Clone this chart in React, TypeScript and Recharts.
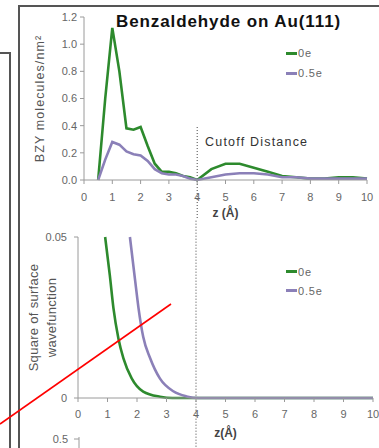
import React from 'react';
import { LineChart, Line, XAxis, YAxis, ReferenceLine, Legend } from 'recharts';

// top panel: BZY density vs z
const zTop = [0.5, 0.75, 1, 1.25, 1.5, 1.75, 2, 2.25, 2.5, 2.75, 3, 3.25, 3.5, 3.75, 4, 4.5, 5, 5.5, 6, 6.5, 7, 7.5, 8, 8.5, 9, 9.5, 10];
const bzy0e = [0, 0.6, 1.12, 0.8, 0.38, 0.37, 0.39, 0.25, 0.12, 0.06, 0.06, 0.05, 0.03, 0.02, 0, 0.08, 0.12, 0.12, 0.09, 0.06, 0.03, 0.02, 0.01, 0.01, 0.02, 0.02, 0.01];
const bzy05e = [0, 0.15, 0.28, 0.26, 0.21, 0.19, 0.18, 0.14, 0.08, 0.05, 0.04, 0.04, 0.03, 0.01, 0, 0.02, 0.04, 0.05, 0.05, 0.04, 0.02, 0.02, 0.01, 0.01, 0.01, 0.01, 0.01];

const zTicks = [0, 1, 2, 3, 4, 5, 6, 7, 8, 9, 10];
const bzyTicks = [0, 0.2, 0.4, 0.6, 0.8, 1.0, 1.2];

// bottom panel: square of surface wavefunction
const wave0eZ = [0.92, 1.08, 1.2, 1.37, 1.54, 1.82, 2.21, 2.78, 3.2, 4, 6, 8, 10];
const wave0e = [0.05, 0.038, 0.028, 0.0185, 0.0123, 0.0061, 0.002, 0.0004, 0, 0, 0, 0, 0];
const wave05eZ = [1.76, 1.93, 2.05, 2.21, 2.44, 2.78, 3.23, 3.68, 4.1, 6, 8, 10];
const wave05e = [0.05, 0.037, 0.028, 0.019, 0.0125, 0.006, 0.0021, 0.0005, 0, 0, 0, 0];
const waveTicks = [0, 0.05];

const seriesNames = ['0e', '0.5e'];
const cutoff = 4;

const GREEN = '#2d8a2d';
const PURPLE = '#8b80b8';
const FONT = '"Liberation Sans", Arial, sans-serif';

const topData = zTop.map((z, i) => ({ z, e0: bzy0e[i], e05: bzy05e[i] }));
const wave0eData = wave0eZ.map((z, i) => ({ z, v: wave0e[i] }));
const wave05eData = wave05eZ.map((z, i) => ({ z, v: wave05e[i] }));

const LegendBox = (props: any) => {
  // keep the series order (0e first), the legend sorts by name otherwise
  const items = [...(props.payload || [])].sort(
    (a: any, b: any) => seriesNames.indexOf(a.value) - seriesNames.indexOf(b.value)
  );
  return (
    <div style={{ fontFamily: FONT }}>
      {items.map((e: any) => (
        <div key={e.value} style={{ display: 'flex', alignItems: 'center', height: props.rowH }}>
          <span style={{ display: 'inline-block', width: 11, height: 3, background: e.color }} />
          <span style={{ fontSize: 11, color: '#666', marginLeft: 1, letterSpacing: 0.8 }}>{e.value}</span>
        </div>
      ))}
    </div>
  );
};

const XTitle = (props: any) => {
  const vb = props.viewBox || {};
  return (
    <text x={vb.x + vb.width / 2} y={vb.y + props.dy} textAnchor="middle" dominantBaseline="central"
      fontSize={12} fontWeight="bold" fill="#444" fontFamily={FONT}>
      {props.text}
    </text>
  );
};

const YTitle = (props: any) => {
  const vb = props.viewBox || {};
  const cy = vb.y + vb.height / 2;
  const lines: string[] = props.lines;
  return (
    <g>
      {lines.map((t, i) => {
        const x = vb.x + props.dx + i * props.gap;
        return (
          <text key={t} x={x} y={cy} textAnchor="middle" dominantBaseline="central"
            transform={`rotate(-90, ${x}, ${cy})`} fontSize={props.size} letterSpacing={props.ls}
            fill="#555" fontFamily={FONT}>
            {t}
          </text>
        );
      })}
    </g>
  );
};

const tickStyle = { fill: '#666', fontSize: 11, fontFamily: FONT };

export default function App() {
  return (
    <div style={{ position: 'absolute', left: 0, top: 0, width: 379, height: 448, overflow: 'hidden', background: '#fff', fontFamily: FONT }}>
      <div style={{ position: 'absolute', left: 0, top: 0 }}>
        <LineChart width={379} height={220} data={topData} margin={{ top: 17, right: 12, bottom: 10, left: 44 }}>
          <XAxis dataKey="z" type="number" domain={[0, 10]} ticks={zTicks} stroke="#9a9a9a" tick={tickStyle}
            tickSize={4} tickMargin={9} height={30} label={<XTitle text="z (Å)" dy={33} />} />
          <YAxis domain={[0, 1.2]} ticks={bzyTicks} tickFormatter={(v: number) => v.toFixed(1)} width={40}
            stroke="#9a9a9a" tick={tickStyle} tickSize={4} tickMargin={3}
            label={<YTitle lines={['BZY molecules/nm²']} dx={-4} gap={0} size={12.5} ls={1.1} />} />
          <ReferenceLine segment={[{ x: cutoff, y: 0.39 }, { x: cutoff, y: -0.3 }]} stroke="#444"
            strokeDasharray="1 2" ifOverflow="visible" />
          <Line dataKey="e0" name="0e" type="linear" stroke={GREEN} strokeWidth={2.6} dot={false} isAnimationActive={false} />
          <Line dataKey="e05" name="0.5e" type="linear" stroke={PURPLE} strokeWidth={2.6} dot={false} isAnimationActive={false} />
          <Legend layout="vertical" align="center" verticalAlign="middle" content={<LegendBox rowH={20} />}
            wrapperStyle={{ left: 286, top: 43, width: 60 }} />
        </LineChart>
      </div>

      <div style={{ position: 'absolute', left: 0, top: 220 }}>
        <LineChart width={379} height={228} margin={{ top: 17, right: 6, bottom: 20, left: 38 }}>
          <XAxis dataKey="z" type="number" domain={[0, 10]} ticks={zTicks} stroke="#9a9a9a" tick={tickStyle}
            tickSize={4} tickMargin={8} height={30} allowDuplicatedCategory={false}
            label={<XTitle text="z(Å)" dy={35} />} />
          <YAxis domain={[0, 0.05]} ticks={waveTicks} tickFormatter={(v: number) => (v === 0 ? '0' : String(v))}
            width={40} stroke="#9a9a9a" tick={tickStyle} tickSize={4} tickMargin={7}
            label={<YTitle lines={['Square of surface', 'wavefunction']} dx={-5} gap={18} size={13} ls={0.3} />} />
          <ReferenceLine segment={[{ x: cutoff, y: 0.056 }, { x: cutoff, y: -0.016 }]} stroke="#444"
            strokeDasharray="1 2" ifOverflow="visible" />
          <Line data={wave0eData} dataKey="v" name="0e" type="monotone" stroke={GREEN} strokeWidth={2.6} dot={false} isAnimationActive={false} />
          <Line data={wave05eData} dataKey="v" name="0.5e" type="monotone" stroke={PURPLE} strokeWidth={2.6} dot={false} isAnimationActive={false} />
          <Legend layout="vertical" align="center" verticalAlign="middle" content={<LegendBox rowH={19} />}
            wrapperStyle={{ left: 286, top: 42, width: 60 }} />
        </LineChart>
      </div>

      <div style={{ position: 'absolute', left: 116, top: 12, fontSize: 17, fontWeight: 'bold', letterSpacing: 0.9, color: '#111', whiteSpace: 'nowrap' }}>
        Benzaldehyde on Au(111)
      </div>
      <div style={{ position: 'absolute', left: 205, top: 135, fontSize: 12.5, letterSpacing: 1.2, color: '#333', whiteSpace: 'nowrap' }}>
        Cutoff Distance
      </div>

      <svg width={379} height={448} style={{ position: 'absolute', left: 0, top: 0, pointerEvents: 'none' }}>
        <path d="M0,53 H10 V448" fill="none" stroke="#555" strokeWidth={2} />
        <path d="M19,448 V6 H379" fill="none" stroke="#555" strokeWidth={2} />
        <text x={68} y={439} textAnchor="end" dominantBaseline="central" fontSize={11} fill="#666" fontFamily={FONT}>0.5</text>
        <path d="M74,439 H79 M79,437 V448" fill="none" stroke="#9a9a9a" strokeWidth={1} />
        <line x1={0} y1={424} x2={171} y2={304} stroke="#ff0000" strokeWidth={1.6} />
      </svg>
    </div>
  );
}
